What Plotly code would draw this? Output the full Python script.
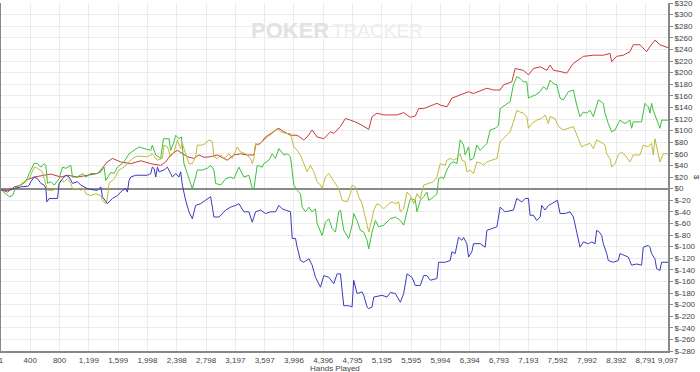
import plotly.graph_objects as go

# ---------------- data (hands played, cumulative $) ----------------
red_hands = [1, 91, 181, 272, 340, 454, 590, 681, 817, 908, 1044, 1180, 1316, 1362, 1452, 1521,
             1634, 1770, 1907, 2043, 2179, 2247, 2315, 2406, 2474, 2542, 2632, 2701, 2769, 2860, 2950,
             2996, 3087, 3177, 3268, 3359, 3450, 3473, 3541, 3609, 3677, 3790, 3858, 3949, 4040, 4130,
             4176, 4244, 4312, 4403, 4494, 4539, 4630, 4698, 4766, 4834, 4925, 5016, 5061, 5129, 5220,
             5311, 5402, 5492, 5583, 5651, 5697, 5765, 5856, 5946, 5991, 6082, 6150, 6263, 6377, 6445,
             6536, 6627, 6718, 6808, 6854, 6967, 7012, 7125, 7194, 7262, 7353, 7444, 7489, 7534, 7625,
             7716, 7807, 7875, 7943, 8079, 8215, 8306, 8329, 8397, 8488, 8578, 8623, 8714, 8805, 8851,
             8919, 8987, 9055, 9097]
red_vals = [-2, -6, 3, 6, 14, 20, 23, 25, 20, 23, 20, 23, 26, 32, 46, 52,
            46, 43, 48, 43, 40, 46, 58, 66, 60, 55, 52, 58, 54, 55, 58,
            55, 49, 58, 60, 58, 58, 75, 78, 89, 95, 104, 98, 92, 92, 84,
            89, 101, 89, 86, 98, 95, 107, 121, 118, 115, 109, 102, 124, 130, 127,
            127, 127, 131, 123, 125, 138, 138, 142, 147, 144, 141, 156, 161, 167, 164,
            169, 173, 170, 170, 179, 184, 207, 204, 196, 207, 210, 204, 213, 204, 202,
            199, 216, 222, 228, 230, 230, 233, 219, 228, 230, 236, 248, 248, 236, 245,
            256, 248, 245, 243]

green_hands = [1, 113, 159, 204, 272, 340, 386, 409, 454, 499, 545, 590, 613, 635, 681, 726, 794,
               840, 885, 953, 976, 1044, 1112, 1157, 1226, 1316, 1362, 1407, 1430, 1498,
               1543, 1589, 1679, 1747, 1816, 1884, 1952, 2043, 2065, 2111, 2179, 2216, 2292, 2315,
               2361, 2383, 2428, 2461, 2496, 2564, 2610, 2655, 2678, 2746, 2814, 2860, 2905, 2928, 2996,
               3064, 3132, 3177, 3245, 3314, 3382, 3427, 3450, 3495, 3563, 3586, 3654, 3700, 3745,
               3790, 3858, 3904, 3949, 3994, 4040, 4085, 4108, 4153, 4199, 4244, 4290, 4312, 4380,
               4426, 4471, 4517, 4562, 4607, 4630, 4675, 4743, 4789, 4811, 4857, 4902, 4948, 4993,
               5016, 5061, 5107, 5152, 5220, 5311, 5379, 5447, 5492, 5538, 5583, 5651, 5674, 5719,
               5765, 5810, 5833, 5878, 5946, 5969, 6014, 6036, 6082, 6127, 6172, 6218, 6263, 6309,
               6331, 6377, 6400, 6445, 6490, 6536, 6604, 6627, 6672, 6740, 6785, 6808, 6876, 6944,
               6989, 7035, 7080, 7125, 7171, 7194, 7239, 7285, 7353, 7398, 7444, 7489, 7534, 7580,
               7625, 7670, 7738, 7807, 7852, 7897, 7943, 7988, 8034, 8079, 8147, 8215, 8238, 8283,
               8329, 8374, 8442, 8510, 8578, 8601, 8623, 8737, 8782, 8828, 8851, 8873, 8896, 8942,
               8987, 9010, 9097]
green_vals = [-2, -14, -12, 3, 6, 12, 26, 32, 44, 43, 37, 43, 40, 9, 12, 6, 17,
              37, 35, 40, 20, 20, 26, 20, 26, 26, 29, 37, 14, 28,
              26, 37, 46, 60, 66, 72, 69, 66, 75, 58, 52, 86, 86, 66,
              81, 92, 86, 89, 43, 17, 0, 20, 32, 32, 35, 40, 32, 9, 6,
              17, 20, 17, 37, 20, 23, 0, 0, 40, 37, 43, 49, 60, 52,
              69, 58, 60, 55, 6, -3, -9, -32, -40, -32, -40, -35, -60, -81,
              -58, -52, -69, -75, -40, -37, -72, -86, -63, -43, -55, -72, -75, -89,
              -104, -75, -55, -66, -63, -52, -49, -55, -63, -37, -17, -20, -40, -20,
              -14, -6, -20, -17, -9, 17, 20, 17, 32, 43, 46, 43, 84, 75,
              58, 72, 49, 52, 75, 66, 75, 78, 101, 104, 109, 138, 144, 150,
              179, 193, 190, 184, 184, 156, 159, 161, 167, 176, 170, 187, 181, 179,
              156, 153, 167, 170, 144, 124, 132, 130, 135, 124, 153, 147, 130, 112,
              98, 101, 118, 112, 118, 104, 115, 115, 147, 141, 130, 147, 135, 118,
              104, 118, 118]

yellow_hands = [1, 136, 227, 318, 386, 431, 454, 499, 567, 590, 613, 635, 704, 772, 817, 862, 908,
                953, 976, 1044, 1089, 1134, 1157, 1226, 1294, 1362, 1384, 1430, 1452, 1475, 1521,
                1543, 1611, 1679, 1725, 1793, 1861, 1930, 1997, 2065, 2134, 2202, 2224, 2270, 2315,
                2361, 2406, 2451, 2474, 2519, 2564, 2610, 2655, 2678, 2746, 2792, 2837, 2882, 2905,
                2950, 2996, 3041, 3109, 3155, 3223, 3268, 3336, 3404, 3427, 3450, 3473, 3518, 3586,
                3632, 3700, 3768, 3813, 3881, 3949, 3994, 4040, 4085, 4130, 4176, 4221, 4267, 4312,
                4358, 4380, 4426, 4471, 4517, 4562, 4607, 4653, 4721, 4766, 4789, 4834, 4880, 4925,
                4970, 5016, 5061, 5084, 5129, 5175, 5220, 5288, 5334, 5379, 5424, 5447, 5492, 5538,
                5583, 5629, 5674, 5719, 5765, 5833, 5901, 5946, 5991, 6059, 6082, 6127, 6172, 6218,
                6263, 6286, 6331, 6354, 6400, 6445, 6468, 6490, 6558, 6581, 6627, 6695, 6763, 6808,
                6876, 6944, 6989, 7035, 7080, 7125, 7171, 7194, 7239, 7307, 7375, 7421, 7466, 7489,
                7557, 7602, 7670, 7738, 7807, 7875, 7920, 7966, 8034, 8079, 8124, 8170, 8238, 8261,
                8306, 8329, 8374, 8419, 8465, 8510, 8578, 8623, 8714, 8760, 8828, 8873, 8896, 8919,
                8964, 8987, 9032, 9097]
yellow_vals = [-2, -3, 3, 12, 17, 29, 37, 35, 29, 17, 6, -3, -3, 0, 14, 12, 17,
               9, 0, 0, -3, 0, -9, -12, -9, -12, -20, -26, -17, 9, 14,
               17, 32, 37, 43, 52, 56, 55, 55, 60, 49, 52, 75, 72, 55,
               63, 84, 69, 78, 60, 43, 43, 55, 75, 75, 78, 84, 81, 55,
               52, 58, 52, 60, 52, 72, 63, 60, 52, 43, 52, 78, 75, 84,
               89, 95, 104, 98, 95, 95, 72, 66, 58, 43, 29, 40, 29, 12,
               6, 0, 20, 26, 17, 9, 0, -20, -23, -9, 6, 3, -14, -26,
               -49, -75, -52, -37, -26, -29, -35, -26, -23, -26, -23, -40, -35, -6,
               -12, -26, -9, -17, 6, 9, 12, 20, 43, 40, 49, 52, 49, 52,
               60, 49, 46, 29, 32, 26, 37, 46, 43, 40, 46, 49, 52, 81,
               89, 98, 115, 135, 132, 130, 124, 104, 112, 118, 121, 127, 112, 124,
               121, 107, 101, 104, 107, 86, 72, 75, 78, 69, 84, 81, 75, 60,
               52, 37, 43, 58, 63, 58, 46, 58, 58, 75, 72, 78, 58, 86,
               55, 46, 60, 60]

blue_hands = [1, 91, 181, 272, 363, 386, 409, 454, 499, 545, 590, 613, 626, 658, 772, 794, 840,
              885, 930, 976, 1044, 1089, 1134, 1180, 1248, 1316, 1362, 1384, 1452, 1521,
              1589, 1657, 1702, 1725, 1747, 1770, 1838, 1997, 2043, 2065, 2088, 2111, 2134, 2156,
              2224, 2270, 2315, 2338, 2383, 2428, 2451, 2474, 2519, 2564, 2610, 2655, 2723, 2792,
              2860, 2905, 2973, 3064, 3132, 3200, 3245, 3314, 3382, 3427, 3473, 3541, 3609, 3677,
              3745, 3790, 3836, 3881, 3949, 3972, 4017, 4040, 4085, 4130, 4199, 4244, 4290, 4358,
              4403, 4471, 4539, 4585, 4630, 4675, 4743, 4789, 4811, 4857, 4925, 4948, 4993, 5016,
              5061, 5084, 5197, 5265, 5311, 5379, 5447, 5492, 5538, 5606, 5651, 5719, 5765, 5810,
              5856, 5946, 5969, 6059, 6127, 6150, 6195, 6240, 6286, 6309, 6354, 6377, 6422, 6445,
              6536, 6604, 6627, 6695, 6763, 6808, 6876, 6989, 7035, 7103, 7148, 7194, 7216, 7262,
              7307, 7353, 7375, 7421, 7466, 7512, 7589, 7625, 7693, 7761, 7807, 7852, 7897, 7943,
              8011, 8056, 8102, 8124, 8161, 8193, 8215, 8261, 8283, 8351, 8419, 8442, 8510, 8555,
              8601, 8669, 8737, 8760, 8828, 8851, 8873, 8919, 8942, 8987, 9010, 9097]
blue_vals = [-2, -3, 0, 3, 4, 6, 12, 20, 17, 9, 6, 0, -23, -17, -17, 9, 17,
             23, 20, 9, 12, 6, 3, 0, -2, -3, 3, -14, -26, -17,
             -12, -3, 0, -6, 14, 20, 23, 23, 26, 37, 35, 20, 37, 29,
             32, 37, 26, 20, 26, 20, 29, 6, -20, -40, -52, -29, -26, -20,
             -14, -49, -49, -37, -32, -29, -26, -40, -40, -58, -40, -37, -43, -40,
             -40, -29, -35, -37, -40, -86, -86, -101, -124, -127, -121, -132, -153, -170,
             -150, -153, -164, -147, -147, -202, -202, -204, -158, -181, -178, -184, -204, -207,
             -204, -187, -184, -187, -179, -181, -196, -181, -147, -153, -167, -167, -150, -150,
             -158, -155, -127, -127, -124, -109, -112, -84, -89, -84, -95, -118, -109, -95,
             -95, -101, -72, -69, -66, -32, -40, -37, -17, -23, -17, -17, -46, -46,
             -55, -49, -29, -37, -29, -26, -20, -43, -43, -40, -49, -75, -101, -92,
             -95, -92, -95, -72, -75, -81, -95, -112, -124, -127, -124, -112, -115, -118,
             -132, -130, -132, -101, -98, -101, -112, -121, -138, -141, -127, -127]

x_tick_vals = [1, 400, 800, 1199, 1599, 1998, 2398, 2798, 3197, 3597, 3996, 4396, 4795,
               5195, 5595, 5994, 6394, 6793, 7193, 7592, 7992, 8392, 8791, 9097]
y_tick_vals = list(range(-280, 321, 20))

series = [
    (red_hands, red_vals, "#cc3a3a"),
    (green_hands, green_vals, "#3cbf3c"),
    (yellow_hands, yellow_vals, "#c2b93a"),
    (blue_hands, blue_vals, "#3a3abf"),
]

fig = go.Figure()
for hx, hy, col in series:
    fig.add_trace(go.Scatter(x=hx, y=hy, mode="lines", line=dict(color=col, width=1),
                             showlegend=False, hoverinfo="skip"))

font_family = "Liberation Sans, Arial, sans-serif"

fig.update_layout(
    width=700, height=372,
    margin=dict(l=1, r=32, t=3, b=21),
    paper_bgcolor="white", plot_bgcolor="white",
    font=dict(family=font_family, size=8, color="#333"),
    xaxis=dict(range=[1, 9097], tickvals=x_tick_vals,
               ticktext=[f"{v:,}" for v in x_tick_vals],
               tickangle=0, automargin=False, ticklabeloverflow="allow",
               showgrid=True, gridcolor="#ececec", gridwidth=1,
               showline=True, linecolor="#888", linewidth=2,
               ticks="", zeroline=False, tickfont=dict(size=8, color="#444")),
    yaxis=dict(range=[-280, 320], side="right", tickvals=y_tick_vals,
               ticktext=[f"${v}" for v in y_tick_vals],
               automargin=False, ticklabelstandoff=0, ticklabeloverflow="allow",
               showgrid=True, gridcolor="#ececec", gridwidth=1,
               showline=True, linecolor="#888", linewidth=2, mirror=True,
               ticks="outside", ticklen=3, tickcolor="#888",
               zeroline=True, zerolinecolor="#8a8a8a", zerolinewidth=2,
               tickfont=dict(size=8, color="#444")),
)

fig.add_annotation(text="Hands Played", xref="paper", yref="paper", x=0.5, y=-0.049,
                   showarrow=False, font=dict(size=8, color="#444"),
                   xanchor="center", yanchor="middle")
fig.add_annotation(text="$", xref="paper", yref="paper", x=1.0435, y=0.5,
                   showarrow=False, textangle=90, xanchor="center", yanchor="middle",
                   font=dict(size=8, color="#444"))
fig.add_annotation(text="<b>POKER</b>", xref="paper", yref="paper", x=0.372, y=0.92,
                   showarrow=False, xanchor="left", yanchor="middle",
                   font=dict(size=22, color="#e2e2e2", family=font_family))
fig.add_annotation(text="TRACKER", xref="paper", yref="paper", x=0.493, y=0.92,
                   showarrow=False, xanchor="left", yanchor="middle",
                   font=dict(size=19, color="#ededed", family=font_family))

fig.write_html("out.html", config={"displayModeBar": False},
               post_script="document.body.style.margin='0';document.body.style.overflow='hidden';")
